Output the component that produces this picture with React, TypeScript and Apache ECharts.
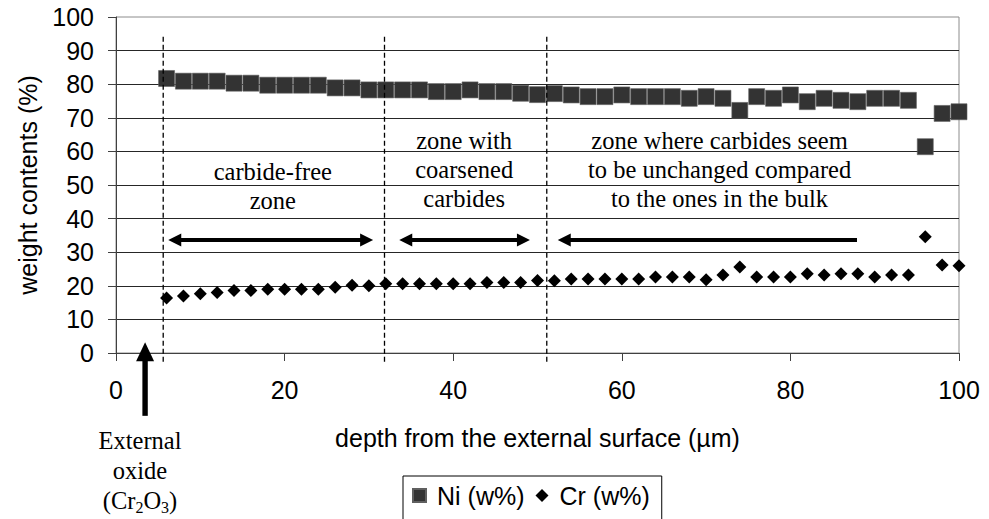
import React, { useEffect, useRef } from "react";
import * as echarts from "echarts";

const depth = [6, 8, 10, 12, 14, 16, 18, 20, 22, 24, 26, 28, 30, 32, 34, 36, 38, 40, 42, 44, 46, 48, 50, 52, 54, 56, 58, 60, 62, 64, 66, 68, 70, 72, 74, 76, 78, 80, 82, 84, 86, 88, 90, 92, 94, 96, 98, 100];
const niValues = [81.7, 80.9, 80.9, 80.9, 80.3, 80.3, 79.7, 79.7, 79.7, 79.7, 78.9, 78.9, 78.3, 78.3, 78.3, 78.3, 77.8, 77.8, 78.3, 77.8, 77.8, 77.3, 76.9, 77.2, 76.8, 76.3, 76.3, 76.8, 76.3, 76.3, 76.3, 75.8, 76.3, 75.8, 72.2, 76.3, 75.8, 76.8, 74.8, 75.8, 75.2, 74.8, 75.8, 75.8, 75.2, 61.4, 71.3, 71.8];
const crValues = [16.4, 17.0, 17.6, 18.0, 18.6, 18.6, 19.0, 19.0, 19.0, 19.0, 19.6, 20.2, 20.0, 20.6, 20.6, 20.6, 20.6, 20.6, 20.6, 21.0, 21.0, 21.0, 21.6, 21.5, 22.0, 22.0, 22.0, 22.0, 22.0, 22.6, 22.6, 22.6, 21.8, 23.2, 25.6, 22.6, 22.6, 22.6, 23.6, 23.2, 23.6, 23.6, 22.6, 23.2, 23.2, 34.6, 26.2, 26.0];

const seriesNames = ["Ni (w%)", "Cr (w%)"];
const xAxisTitle = "depth from the external surface (µm)";
const yAxisTitle = "weight contents (%)";

// zone boundaries (depth, µm)
const zoneBounds = [5.6, 31.85, 51.1];
const zoneArrows = [
  { from: 6.2, to: 30.5, left: true, right: true },
  { from: 33.6, to: 49.1, left: true, right: true },
  { from: 52.4, to: 87.9, left: true, right: false },
];
const zoneLabels = [
  { text: "carbide-free\nzone", x: 18.6, y: 49.6 },
  { text: "zone with\ncoarsened\ncarbides", x: 41.3, y: 54.5 },
  { text: "zone where carbides seem\nto be unchanged compared\nto the ones in the bulk", x: 71.6, y: 54.5 },
];

const sans = "'Liberation Sans', Arial, sans-serif";
const serif = "'Liberation Serif', 'Times New Roman', serif";

export default function App() {
  const ref = useRef<HTMLDivElement>(null);
  useEffect(() => {
    const chart = echarts.init(ref.current!, null, { renderer: "svg" });
    chart.setOption({
      animation: false,
      grid: { left: 116, right: 30, top: 17, bottom: 166, show: true, borderColor: "#8c8c8c", borderWidth: 1 },
      xAxis: {
        type: "value",
        min: 0,
        max: 100,
        interval: 20,
        axisLine: { show: true, lineStyle: { color: "#404040", width: 1 } },
        axisTick: { show: true, length: 8, lineStyle: { color: "#404040" } },
        axisLabel: { fontSize: 25, color: "#000", fontFamily: sans, margin: 24 },
        splitLine: { show: false },
        name: xAxisTitle,
        nameLocation: "middle",
        nameGap: 72,
        nameTextStyle: { fontSize: 25, color: "#000", fontFamily: sans },
      },
      yAxis: {
        type: "value",
        min: 0,
        max: 100,
        interval: 10,
        axisLine: { show: true, lineStyle: { color: "#404040", width: 1 } },
        axisTick: { show: true, length: 8, lineStyle: { color: "#404040" } },
        axisLabel: { fontSize: 25, color: "#000", fontFamily: sans, margin: 22 },
        splitLine: { show: true, showMaxLine: false, lineStyle: { color: "#262626", width: 1 } },
        name: yAxisTitle,
        nameLocation: "middle",
        nameGap: 76,
        nameTextStyle: { fontSize: 25, color: "#000", fontFamily: sans },
      },
      legend: {
        left: 403,
        top: 476,
        selectedMode: false,
        orient: "horizontal",
        borderColor: "#000",
        borderWidth: 1,
        padding: [7, 12, 30, 9],
        itemGap: 11,
        itemWidth: 13,
        itemHeight: 13,
        textStyle: { fontSize: 25, fontFamily: sans, color: "#000", padding: [0, 0, 0, 6] },
        data: [
          { name: seriesNames[0], icon: "rect", itemStyle: { color: "#333333" } },
          { name: seriesNames[1], icon: "diamond", itemStyle: { color: "#000" } },
        ],
      },
      series: [
        {
          name: seriesNames[0],
          type: "scatter",
          data: depth.map((d, i) => [d, niValues[i]]),
          symbol: "rect",
          symbolSize: 16,
          itemStyle: { color: "#333333", borderColor: "#5f5f5f", borderWidth: 0.6, opacity: 1 },
          z: 3,
        },
        {
          name: seriesNames[1],
          type: "scatter",
          data: depth.map((d, i) => [d, crValues[i]]),
          symbol: "diamond",
          symbolSize: 13,
          itemStyle: { color: "#000", opacity: 1 },
          z: 3,
        },
      ],
    });

    const p = (x: number, y: number) => chart.convertToPixel({ gridIndex: 0 }, [x, y]) as number[];
    const graphics: any[] = [];

    zoneBounds.forEach((b) => {
      const a = p(b, 94.1);
      const c = p(b, -2.8);
      graphics.push({
        type: "line",
        shape: { x1: a[0], y1: a[1], x2: c[0], y2: c[1] },
        style: { stroke: "#000", lineWidth: 1.3, lineDash: [5, 3] },
        z: 10,
      });
    });

    const arrowY = 33.6;
    const headL = 13;
    const headW = 6.5;
    zoneArrows.forEach((ar) => {
      const a = p(ar.from, arrowY);
      const c = p(ar.to, arrowY);
      const y = a[1];
      const x1 = ar.left ? a[0] + headL - 2 : a[0];
      const x2 = ar.right ? c[0] - headL + 2 : c[0];
      graphics.push({
        type: "line",
        shape: { x1, y1: y, x2, y2: y },
        style: { stroke: "#000", lineWidth: 4 },
        z: 10,
      });
      if (ar.left) {
        graphics.push({
          type: "polygon",
          shape: { points: [[a[0], y], [a[0] + headL, y - headW], [a[0] + headL, y + headW]] },
          style: { fill: "#000" },
          z: 10,
        });
      }
      if (ar.right) {
        graphics.push({
          type: "polygon",
          shape: { points: [[c[0], y], [c[0] - headL, y - headW], [c[0] - headL, y + headW]] },
          style: { fill: "#000" },
          z: 10,
        });
      }
    });

    zoneLabels.forEach((lb) => {
      const q = p(lb.x, lb.y);
      graphics.push({
        type: "text",
        x: q[0],
        y: q[1],
        style: {
          text: lb.text,
          fontSize: 24.5,
          fontFamily: serif,
          fill: "#000",
          align: "center",
          verticalAlign: "middle",
          lineHeight: 29,
        },
        z: 10,
      });
    });

    // External oxide arrow
    const tip = p(3.45, 3.2);
    const tail = p(3.45, -18.7);
    graphics.push({
      type: "rect",
      shape: { x: tip[0] - 2.7, y: tip[1] + 15, width: 5.4, height: tail[1] - tip[1] - 15 },
      style: { fill: "#000" },
      z: 10,
    });
    graphics.push({
      type: "polygon",
      shape: { points: [[tip[0], tip[1]], [tip[0] - 9, tip[1] + 19], [tip[0] + 9, tip[1] + 19]] },
      style: { fill: "#000" },
      z: 10,
    });
    const ext = p(2.85, -35.0);
    graphics.push({
      type: "text",
      x: ext[0],
      y: ext[1],
      style: {
        text: "External\noxide\n{n|(Cr}{s|2}{n|O}{s|3}{n|)}",
        fontSize: 24.5,
        fontFamily: serif,
        fill: "#000",
        align: "center",
        verticalAlign: "middle",
        lineHeight: 30,
        rich: {
          n: { fontSize: 24.5, fontFamily: serif, fill: "#000", lineHeight: 30 },
          s: { fontSize: 16, fontFamily: serif, fill: "#000", lineHeight: 14, verticalAlign: "bottom" },
        },
      },
      z: 10,
    });

    chart.setOption({ graphic: graphics });

    return () => chart.dispose();
  }, []);

  return <div ref={ref} style={{ position: "absolute", left: 0, top: 0, width: 989, height: 519 }} />;
}
